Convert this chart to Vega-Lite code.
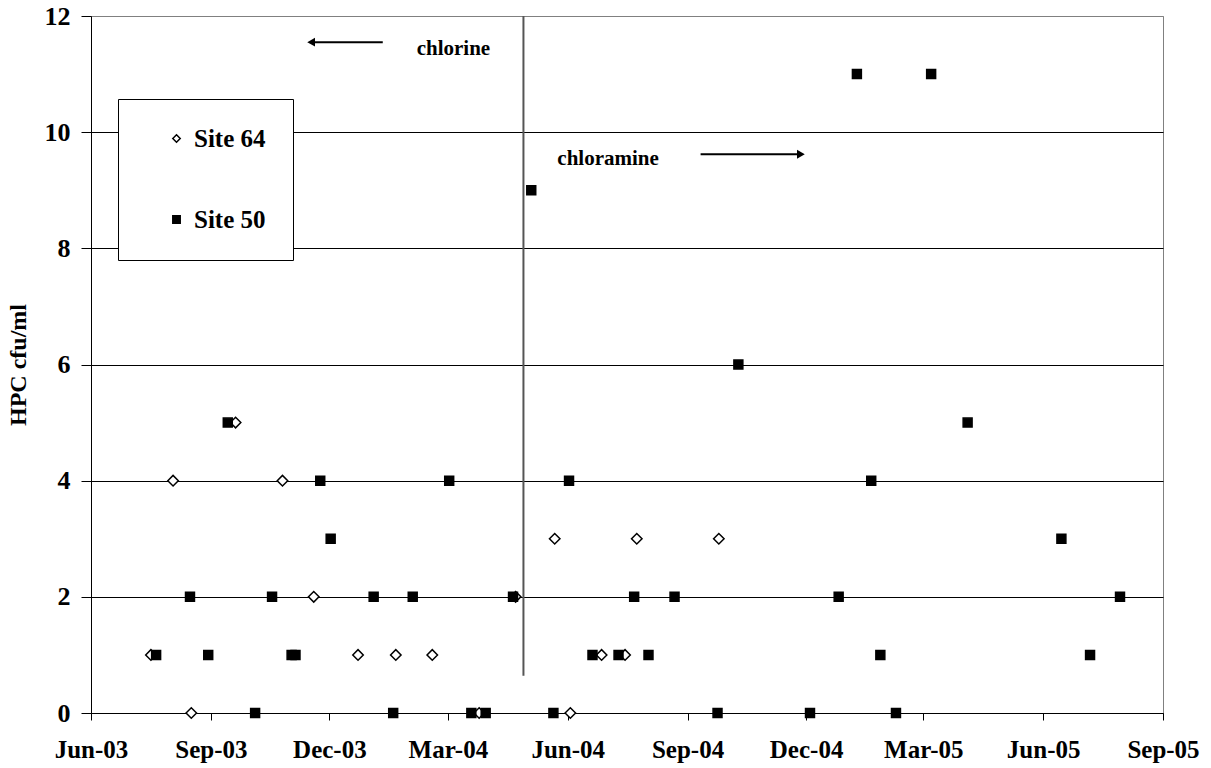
{
  "$schema": "https://vega.github.io/schema/vega-lite/v6.json",
  "width": 1072,
  "height": 697,
  "autosize": {"type": "none"},
  "padding": {"left": 91, "top": 16, "right": 48, "bottom": 55},
  "background": "white",
  "config": {
    "font": "Liberation Serif",
    "view": {"stroke": "#808080", "strokeWidth": 1},
    "axis": {"domainColor": "black", "tickColor": "black", "labelColor": "black", "titleColor": "black", "labelFont": "Liberation Serif", "labelFontWeight": "bold", "titleFont": "Liberation Serif", "titleFontWeight": "bold"},
    "legend": {"title": null, "orient": "none", "legendX": 27, "legendY": 83, "strokeColor": "black", "fillColor": "white", "padding": 27, "rowPadding": 55, "symbolOffset": 19, "labelOffset": 5, "labelFont": "Liberation Serif", "labelFontSize": 25, "labelFontWeight": "bold", "labelColor": "black", "symbolSize": 55, "symbolStrokeWidth": 1.5}
  },
  "datasets": {
    "samples": [
      {"site": "Site 64", "date": "2003-07-17", "hpc": 1},
      {"site": "Site 64", "date": "2003-08-03", "hpc": 4},
      {"site": "Site 64", "date": "2003-08-17", "hpc": 0},
      {"site": "Site 64", "date": "2003-09-20", "hpc": 5},
      {"site": "Site 64", "date": "2003-10-26", "hpc": 4},
      {"site": "Site 64", "date": "2003-11-19", "hpc": 2},
      {"site": "Site 64", "date": "2003-12-23", "hpc": 1},
      {"site": "Site 64", "date": "2004-01-21", "hpc": 1},
      {"site": "Site 64", "date": "2004-02-18", "hpc": 1},
      {"site": "Site 64", "date": "2004-03-25", "hpc": 0},
      {"site": "Site 64", "date": "2004-04-22", "hpc": 2},
      {"site": "Site 64", "date": "2004-05-22", "hpc": 3},
      {"site": "Site 64", "date": "2004-06-03", "hpc": 0},
      {"site": "Site 64", "date": "2004-06-27", "hpc": 1},
      {"site": "Site 64", "date": "2004-07-15", "hpc": 1},
      {"site": "Site 64", "date": "2004-07-24", "hpc": 3},
      {"site": "Site 64", "date": "2004-09-25", "hpc": 3},
      {"site": "Site 50", "date": "2003-07-21", "hpc": 1},
      {"site": "Site 50", "date": "2003-08-16", "hpc": 2},
      {"site": "Site 50", "date": "2003-08-30", "hpc": 1},
      {"site": "Site 50", "date": "2003-09-14", "hpc": 5},
      {"site": "Site 50", "date": "2003-10-05", "hpc": 0},
      {"site": "Site 50", "date": "2003-10-18", "hpc": 2},
      {"site": "Site 50", "date": "2003-11-02", "hpc": 1},
      {"site": "Site 50", "date": "2003-11-05", "hpc": 1},
      {"site": "Site 50", "date": "2003-11-24", "hpc": 4},
      {"site": "Site 50", "date": "2003-12-02", "hpc": 3},
      {"site": "Site 50", "date": "2004-01-04", "hpc": 2},
      {"site": "Site 50", "date": "2004-01-19", "hpc": 0},
      {"site": "Site 50", "date": "2004-02-03", "hpc": 2},
      {"site": "Site 50", "date": "2004-03-02", "hpc": 4},
      {"site": "Site 50", "date": "2004-03-19", "hpc": 0},
      {"site": "Site 50", "date": "2004-03-30", "hpc": 0},
      {"site": "Site 50", "date": "2004-04-20", "hpc": 2},
      {"site": "Site 50", "date": "2004-05-04", "hpc": 9},
      {"site": "Site 50", "date": "2004-05-21", "hpc": 0},
      {"site": "Site 50", "date": "2004-06-02", "hpc": 4},
      {"site": "Site 50", "date": "2004-06-20", "hpc": 1},
      {"site": "Site 50", "date": "2004-07-10", "hpc": 1},
      {"site": "Site 50", "date": "2004-07-22", "hpc": 2},
      {"site": "Site 50", "date": "2004-08-02", "hpc": 1},
      {"site": "Site 50", "date": "2004-08-22", "hpc": 2},
      {"site": "Site 50", "date": "2004-09-24", "hpc": 0},
      {"site": "Site 50", "date": "2004-10-10", "hpc": 6},
      {"site": "Site 50", "date": "2004-12-04", "hpc": 0},
      {"site": "Site 50", "date": "2004-12-26", "hpc": 2},
      {"site": "Site 50", "date": "2005-01-09", "hpc": 11},
      {"site": "Site 50", "date": "2005-01-20", "hpc": 4},
      {"site": "Site 50", "date": "2005-01-27", "hpc": 1},
      {"site": "Site 50", "date": "2005-02-08", "hpc": 0},
      {"site": "Site 50", "date": "2005-03-07", "hpc": 11},
      {"site": "Site 50", "date": "2005-04-04", "hpc": 5},
      {"site": "Site 50", "date": "2005-06-15", "hpc": 3},
      {"site": "Site 50", "date": "2005-07-07", "hpc": 1},
      {"site": "Site 50", "date": "2005-07-30", "hpc": 2}
    ],
    "divider": [
      {"date": "2004-04-28", "hpc": 0.64, "hpc2": 12}
    ],
    "arrows": [
      {"label": "chlorine", "dir": "left", "date": "2004-01-11", "date2": "2003-11-17", "hpc": 11.55},
      {"label": "chloramine", "dir": "right", "date": "2004-09-11", "date2": "2004-11-27", "hpc": 9.62}
    ],
    "notes": [
      {"text": "chlorine", "date": "2004-02-06", "hpc": 11.33},
      {"text": "chloramine", "date": "2004-05-24", "hpc": 9.435}
    ]
  },
  "layer": [
    {
      "data": {"name": "divider"},
      "mark": {"type": "rule", "color": "#555555", "strokeWidth": 2},
      "encoding": {
        "x": {
          "field": "date", "type": "temporal",
          "scale": {"type": "utc", "nice": false, "domain": [{"year": 2003, "month": 6, "date": 1, "utc": true}, {"year": 2005, "month": 9, "date": 1, "utc": true}]},
          "axis": {
            "title": null,
            "format": "%b-%y",
            "values": [
              {"year": 2003, "month": 6, "date": 1, "utc": true},
              {"year": 2003, "month": 9, "date": 1, "utc": true},
              {"year": 2003, "month": 12, "date": 1, "utc": true},
              {"year": 2004, "month": 3, "date": 1, "utc": true},
              {"year": 2004, "month": 6, "date": 1, "utc": true},
              {"year": 2004, "month": 9, "date": 1, "utc": true},
              {"year": 2004, "month": 12, "date": 1, "utc": true},
              {"year": 2005, "month": 3, "date": 1, "utc": true},
              {"year": 2005, "month": 6, "date": 1, "utc": true},
              {"year": 2005, "month": 9, "date": 1, "utc": true}
            ],
            "grid": false,
            "tickSize": 7,
            "labelPadding": 17,
            "labelFontSize": 25,
            "labelFlush": false,
            "labelOverlap": false
          }
        },
        "y": {
          "field": "hpc", "type": "quantitative",
          "scale": {"domain": [0, 12], "nice": false},
          "axis": {
            "title": "HPC cfu/ml",
            "titleFontSize": 24,
            "titleX": -66,
            "titleY": 348.5,
            "titleAngle": -90,
            "titleBaseline": "alphabetic",
            "titleAlign": "center",
            "values": [0, 2, 4, 6, 8, 10, 12],
            "format": "d",
            "tickSize": 10,
            "labelPadding": 11,
            "labelFontSize": 26,
            "grid": true,
            "gridWidth": 1,
            "gridColor": {"condition": {"test": "datum.value === 12", "value": "#808080"}, "value": "black"}
          }
        },
        "y2": {"field": "hpc2"}
      }
    },
    {
      "data": {"name": "samples"},
      "transform": [{"filter": "datum.site === 'Site 64'"}],
      "mark": {"type": "point", "filled": true, "opacity": 1, "strokeWidth": 1.5, "size": 110},
      "encoding": {
        "x": {"field": "date", "type": "temporal"},
        "y": {"field": "hpc", "type": "quantitative"},
        "shape": {
          "field": "site", "type": "nominal",
          "scale": {"domain": ["Site 64", "Site 50"], "range": ["diamond", "square"]}
        },
        "fill": {
          "field": "site", "type": "nominal",
          "scale": {"domain": ["Site 64", "Site 50"], "range": ["white", "black"]}
        },
        "stroke": {
          "field": "site", "type": "nominal",
          "scale": {"domain": ["Site 64", "Site 50"], "range": ["black", "black"]}
        }
      }
    },
    {
      "data": {"name": "samples"},
      "transform": [{"filter": "datum.site === 'Site 50'"}],
      "mark": {"type": "point", "filled": true, "opacity": 1, "strokeWidth": 1.5, "size": 80},
      "encoding": {
        "x": {"field": "date", "type": "temporal"},
        "y": {"field": "hpc", "type": "quantitative"},
        "shape": {"field": "site", "type": "nominal"},
        "fill": {"field": "site", "type": "nominal"},
        "stroke": {"field": "site", "type": "nominal"}
      }
    },
    {
      "data": {"name": "arrows"},
      "mark": {"type": "rule", "color": "black", "strokeWidth": 2},
      "encoding": {
        "x": {"field": "date", "type": "temporal"},
        "x2": {"field": "date2"},
        "y": {"field": "hpc", "type": "quantitative"}
      }
    },
    {
      "data": {"name": "arrows"},
      "transform": [{"filter": "datum.dir === 'left'"}],
      "mark": {"type": "point", "shape": "triangle-left", "filled": true, "color": "black", "opacity": 1, "size": 80},
      "encoding": {
        "x": {"field": "date2", "type": "temporal"},
        "y": {"field": "hpc", "type": "quantitative"}
      }
    },
    {
      "data": {"name": "arrows"},
      "transform": [{"filter": "datum.dir === 'right'"}],
      "mark": {"type": "point", "shape": "triangle-right", "filled": true, "color": "black", "opacity": 1, "size": 80},
      "encoding": {
        "x": {"field": "date2", "type": "temporal"},
        "y": {"field": "hpc", "type": "quantitative"}
      }
    },
    {
      "data": {"name": "notes"},
      "mark": {"type": "text", "align": "left", "baseline": "alphabetic", "font": "Liberation Serif", "fontWeight": "bold", "fontSize": 21, "color": "black"},
      "encoding": {
        "x": {"field": "date", "type": "temporal"},
        "y": {"field": "hpc", "type": "quantitative"},
        "text": {"field": "text", "type": "nominal"}
      }
    }
  ]
}
